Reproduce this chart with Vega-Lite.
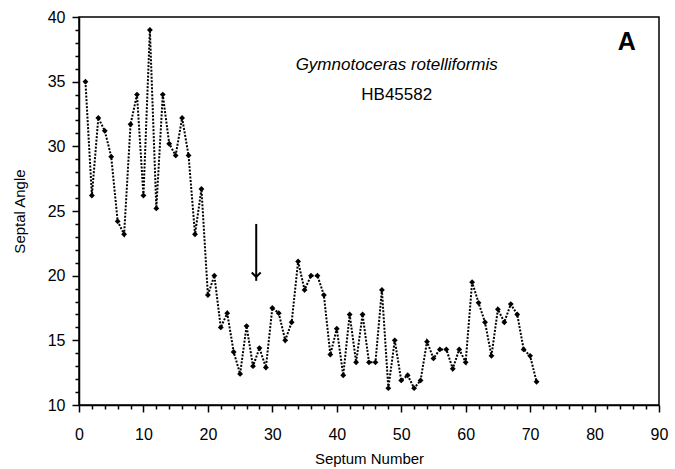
{
  "$schema": "https://vega.github.io/schema/vega-lite/v6.json",
  "autosize": "none",
  "padding": {"left": 79, "top": 17, "right": 16, "bottom": 64},
  "width": 580,
  "height": 388,
  "config": {
    "view": {"stroke": "black", "strokeWidth": 1.5},
    "font": "Liberation Sans",
    "axis": {"grid": false, "domainColor": "black", "tickColor": "black", "labelColor": "black", "titleColor": "black", "labelFont": "Liberation Sans", "titleFont": "Liberation Sans"}
  },
  "data": {"values": [
    {"n":1,"a":35.0},{"n":2,"a":26.2},{"n":3,"a":32.2},{"n":4,"a":31.2},{"n":5,"a":29.2},
    {"n":6,"a":24.2},{"n":7,"a":23.2},{"n":8,"a":31.7},{"n":9,"a":34.0},{"n":10,"a":26.2},
    {"n":11,"a":39.0},{"n":12,"a":25.2},{"n":13,"a":34.0},{"n":14,"a":30.2},{"n":15,"a":29.3},
    {"n":16,"a":32.2},{"n":17,"a":29.3},{"n":18,"a":23.2},{"n":19,"a":26.7},{"n":20,"a":18.5},
    {"n":21,"a":20.0},{"n":22,"a":16.0},{"n":23,"a":17.1},{"n":24,"a":14.1},{"n":25,"a":12.4},
    {"n":26,"a":16.1},{"n":27,"a":13.0},{"n":28,"a":14.4},{"n":29,"a":12.9},{"n":30,"a":17.5},
    {"n":31,"a":17.1},{"n":32,"a":15.0},{"n":33,"a":16.4},{"n":34,"a":21.1},{"n":35,"a":18.9},
    {"n":36,"a":20.0},{"n":37,"a":20.0},{"n":38,"a":18.5},{"n":39,"a":13.9},{"n":40,"a":15.9},
    {"n":41,"a":12.3},{"n":42,"a":17.0},{"n":43,"a":13.3},{"n":44,"a":17.0},{"n":45,"a":13.3},
    {"n":46,"a":13.3},{"n":47,"a":18.9},{"n":48,"a":11.3},{"n":49,"a":15.0},{"n":50,"a":11.9},
    {"n":51,"a":12.3},{"n":52,"a":11.3},{"n":53,"a":11.9},{"n":54,"a":14.9},{"n":55,"a":13.6},
    {"n":56,"a":14.3},{"n":57,"a":14.3},{"n":58,"a":12.8},{"n":59,"a":14.3},{"n":60,"a":13.3},
    {"n":61,"a":19.5},{"n":62,"a":17.9},{"n":63,"a":16.4},{"n":64,"a":13.8},{"n":65,"a":17.4},
    {"n":66,"a":16.4},{"n":67,"a":17.8},{"n":68,"a":17.0},{"n":69,"a":14.3},{"n":70,"a":13.8},
    {"n":71,"a":11.8}
  ]},
  "layer": [
    {
      "mark": {"type": "line", "color": "black", "strokeDash": [2, 1.5], "strokeWidth": 2},
      "encoding": {
        "x": {"field": "n", "type": "quantitative", "scale": {"domain": [0, 90], "nice": false, "zero": false},
          "axis": {"orient": "bottom", "tickCount": 46, "format": "d", "values": [0,2,4,6,8,10,12,14,16,18,20,22,24,26,28,30,32,34,36,38,40,42,44,46,48,50,52,54,56,58,60,62,64,66,68,70,72,74,76,78,80,82,84,86,88,90],
            "labelExpr": "datum.value % 10 === 0 ? datum.label : ''",
            "tickSize": {"condition": {"test": "datum.value % 10 === 0", "value": 7}, "value": 4},
            "title": "Septum Number", "titleFontSize": 15, "titleFontWeight": "normal", "titlePadding": 9, "labelFontSize": 16, "labelPadding": 14, "tickWidth": 1.5, "domainWidth": 1.5, "labelFlush": false, "labelOverlap": false}},
        "y": {"field": "a", "type": "quantitative", "scale": {"domain": [10, 40], "nice": false, "zero": false},
          "axis": {"orient": "left", "tickCount": 31, "format": "d", "values": [10,11,12,13,14,15,16,17,18,19,20,21,22,23,24,25,26,27,28,29,30,31,32,33,34,35,36,37,38,39,40],
            "labelExpr": "datum.value % 5 === 0 ? datum.label : ''",
            "tickSize": {"condition": {"test": "datum.value % 5 === 0", "value": 7}, "value": 4},
            "title": "Septal Angle", "titleFontSize": 15, "titleFontWeight": "normal", "titlePadding": 20, "labelFontSize": 16, "labelPadding": 7, "tickWidth": 1.5, "domainWidth": 1.5, "labelOverlap": false}}
      }
    },
    {
      "mark": {"type": "point", "shape": "diamond", "filled": true, "color": "black", "size": 34, "opacity": 1},
      "encoding": {
        "x": {"field": "n", "type": "quantitative"},
        "y": {"field": "a", "type": "quantitative"}
      }
    },
    {
      "data": {"values": [
        {"x": 49.3, "y": 36.3, "t": "Gymnotoceras rotelliformis"}
      ]},
      "mark": {"type": "text", "color": "black", "align": "center", "baseline": "middle", "font": "Liberation Sans", "fontStyle": "italic", "fontSize": 17},
      "encoding": {
        "x": {"field": "x", "type": "quantitative"},
        "y": {"field": "y", "type": "quantitative"},
        "text": {"field": "t"}
      }
    },
    {
      "data": {"values": [
        {"x": 49.3, "y": 34.0, "t": "HB45582"}
      ]},
      "mark": {"type": "text", "color": "black", "align": "center", "baseline": "middle", "font": "Liberation Sans", "fontSize": 17},
      "encoding": {
        "x": {"field": "x", "type": "quantitative"},
        "y": {"field": "y", "type": "quantitative"},
        "text": {"field": "t"}
      }
    },
    {
      "data": {"values": [
        {"x": 85.0, "y": 38.1, "t": "A"}
      ]},
      "mark": {"type": "text", "color": "black", "align": "center", "baseline": "middle", "font": "Liberation Sans", "fontWeight": "bold", "fontSize": 25},
      "encoding": {
        "x": {"field": "x", "type": "quantitative"},
        "y": {"field": "y", "type": "quantitative"},
        "text": {"field": "t"}
      }
    },
    {
      "data": {"values": [{"x": 27.5, "y": 24.0, "y2": 19.6}]},
      "mark": {"type": "rule", "color": "black", "strokeWidth": 2},
      "encoding": {
        "x": {"field": "x", "type": "quantitative"},
        "y": {"field": "y", "type": "quantitative"},
        "y2": {"field": "y2"}
      }
    },
    {
      "data": {"values": [{"x": 27.5, "y": 19.9}]},
      "mark": {"type": "point", "shape": "M-1,-1L0,0L1,-1", "filled": false, "color": "black", "strokeWidth": 2, "size": 80, "opacity": 1},
      "encoding": {
        "x": {"field": "x", "type": "quantitative"},
        "y": {"field": "y", "type": "quantitative"}
      }
    }
  ]
}
